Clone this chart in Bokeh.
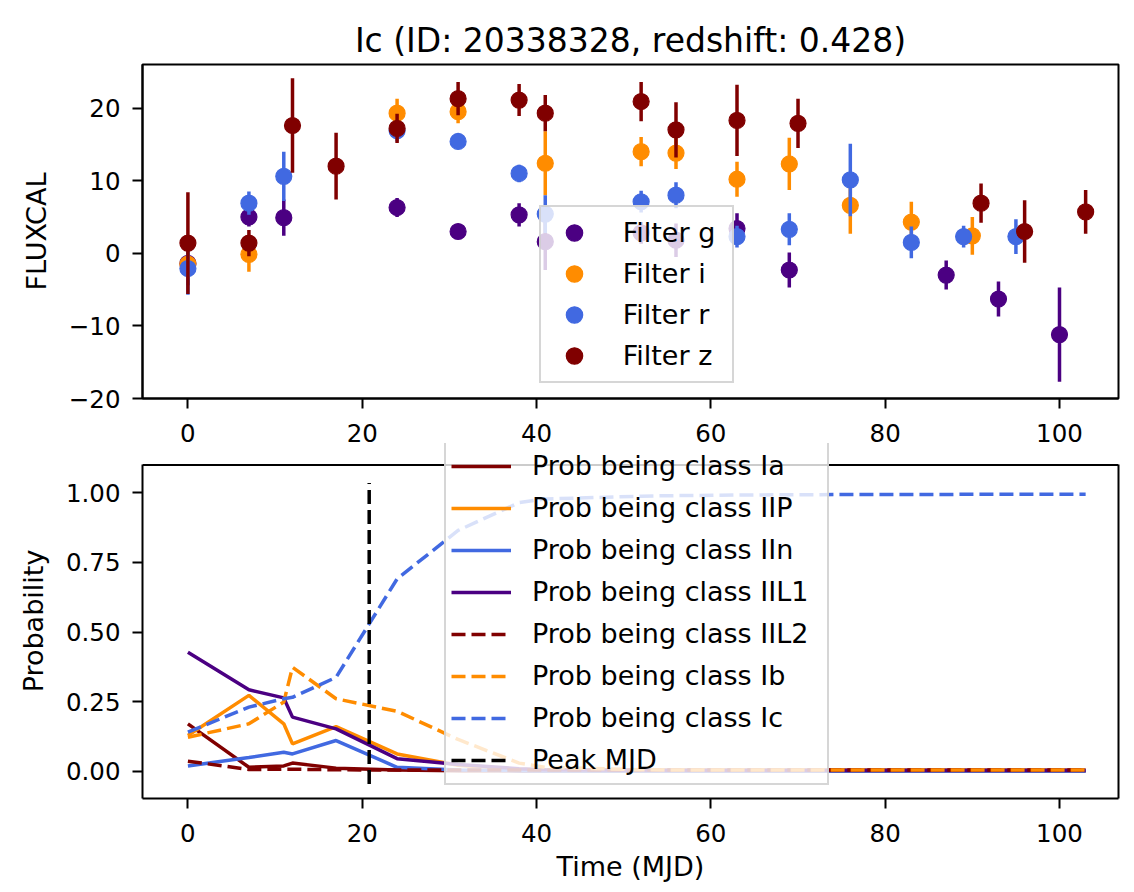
from bokeh.plotting import figure
from bokeh.layouts import column
from bokeh.models import (Range1d, FixedTicker, Legend, LegendItem, ColumnDataSource,
                          PrintfTickFormatter, LinearAxis, Span)
from bokeh.embed import file_html
from bokeh.resources import INLINE

FONT = "DejaVu Sans"

# ---------------- data: light curve ----------------
filters = ["g", "i", "r", "z"]
colors = {"g": "#4B0082", "i": "#FF8C00", "r": "#4169E1", "z": "#800000"}

g_time = [0, 7, 11, 24, 31, 38, 41, 52, 56, 63, 69, 87, 93, 100]
g_flux = [-1.4, 5.0, 4.9, 6.3, 3.0, 5.3, 1.6, 2.8, 1.8, 3.4, -2.3, -3.0, -6.3, -11.2]
g_err = [3.0, 1.3, 2.5, 1.3, 1.0, 1.6, 3.9, 1.5, 2.3, 2.1, 2.4, 2.0, 2.4, 6.5]

i_time = [0, 7, 24, 31, 41, 52, 56, 63, 69, 76, 83, 90]
i_flux = [-1.5, -0.15, 19.3, 19.5, 12.4, 14.0, 13.8, 10.2, 12.3, 6.6, 4.3, 2.4]
i_err = [2.0, 2.4, 2.0, 1.6, 4.4, 2.0, 2.2, 2.4, 3.6, 3.9, 2.8, 2.6]

r_time = [0, 7, 11, 24, 31, 38, 41, 52, 56, 63, 69, 76, 83, 89, 95]
r_flux = [-2.1, 6.9, 10.6, 16.9, 15.4, 11.0, 5.4, 7.1, 8.0, 2.3, 3.3, 10.1, 1.5, 2.3, 2.3]
r_err = [3.6, 1.6, 3.4, 1.5, 1.0, 1.2, 2.6, 1.5, 1.8, 1.5, 2.2, 5.0, 2.2, 1.5, 2.4]

z_time = [0, 7, 12, 17, 24, 31, 38, 41, 52, 56, 63, 70, 91, 96, 103]
z_flux = [1.4, 1.4, 17.6, 12.0, 17.2, 21.3, 21.1, 19.3, 20.9, 17.0, 18.3, 17.9, 6.9, 3.0, 5.7]
z_err = [7.0, 1.8, 6.5, 4.6, 2.0, 2.3, 2.2, 2.5, 2.7, 3.8, 4.9, 3.4, 2.7, 4.3, 3.0]

series = {
    "g": (g_time, g_flux, g_err),
    "i": (i_time, i_flux, i_err),
    "r": (r_time, r_flux, r_err),
    "z": (z_time, z_flux, z_err),
}

# ---------------- data: class probabilities ----------------
prob_time = [0, 7, 11, 12, 17, 24, 31, 38, 41, 52, 56, 63, 69, 70, 76, 83, 87, 89, 90, 91, 93, 95, 96, 100, 103]
prob_Ia = [0.171, 0.015, 0.020, 0.030, 0.012, 0.005, 0.003, 0.002, 0.002, 0.002, 0.002, 0.002, 0.002, 0.002,
           0.002, 0.002, 0.002, 0.002, 0.002, 0.002, 0.002, 0.002, 0.002, 0.002, 0.002]
prob_IIP = [0.129, 0.273, 0.171, 0.099, 0.161, 0.063, 0.022, 0.008, 0.006, 0.005, 0.005, 0.005, 0.005, 0.005,
            0.005, 0.005, 0.005, 0.005, 0.005, 0.005, 0.005, 0.005, 0.005, 0.005, 0.005]
prob_IIn = [0.020, 0.050, 0.069, 0.063, 0.111, 0.015, 0.005, 0.003, 0.002, 0.002, 0.002, 0.002, 0.002, 0.002,
            0.002, 0.002, 0.002, 0.002, 0.002, 0.002, 0.002, 0.002, 0.002, 0.002, 0.002]
prob_IIL1 = [0.428, 0.293, 0.264, 0.195, 0.153, 0.046, 0.025, 0.010, 0.006, 0.004, 0.004, 0.004, 0.004, 0.004,
             0.004, 0.004, 0.004, 0.004, 0.004, 0.004, 0.004, 0.004, 0.004, 0.004, 0.004]
prob_IIL2 = [0.037, 0.007, 0.008, 0.008, 0.006, 0.005, 0.005, 0.005, 0.005, 0.005, 0.005, 0.005, 0.005, 0.005,
             0.005, 0.005, 0.005, 0.005, 0.005, 0.005, 0.005, 0.005, 0.005, 0.005, 0.005]
prob_Ib = [0.123, 0.171, 0.249, 0.374, 0.261, 0.216, 0.115, 0.030, 0.015, 0.006, 0.005, 0.005, 0.005, 0.005,
           0.005, 0.005, 0.005, 0.005, 0.005, 0.005, 0.005, 0.005, 0.005, 0.005, 0.005]
prob_Ic = [0.141, 0.231, 0.261, 0.266, 0.338, 0.691, 0.865, 0.965, 0.978, 0.988, 0.990, 0.992, 0.993, 0.993,
           0.994, 0.994, 0.994, 0.995, 0.995, 0.995, 0.995, 0.995, 0.995, 0.995, 0.995]

class_names = ["Ia", "IIP", "IIn", "IIL1", "IIL2", "Ib", "Ic"]
class_probs = [prob_Ia, prob_IIP, prob_IIn, prob_IIL1, prob_IIL2, prob_Ib, prob_Ic]
class_colors = ["#800000", "#FF8C00", "#4169E1", "#4B0082", "#800000", "#FF8C00", "#4169E1"]
class_dashed = [False, False, False, False, True, True, True]

peak_mjd = 20.8
peak_span = [-0.045, 1.035]

x_ticks = [0, 20, 40, 60, 80, 100]
flux_ticks = [-20, -10, 0, 10, 20]
prob_ticks = [0.0, 0.25, 0.5, 0.75, 1.0]

title_text = "Ic (ID: 20338328, redshift: 0.428)"

X_LIM = (-5.21, 106.77)
FLUX_LIM = (-20.0, 26.0)
PROB_LIM = (-0.097, 1.1)      # visible axes box of the probability panel
PROB_VIEW_TOP = 1.177         # extra room above the box so the legend can overhang

DASH = "14 6"


def style(p):
    p.background_fill_color = "white"
    p.border_fill_color = "white"
    p.outline_line_color = "black"
    p.outline_line_width = 2
    p.grid.visible = False
    for ax in p.axis:
        ax.axis_line_width = 2
        ax.axis_line_color = "black"
        ax.major_tick_line_width = 2
        ax.major_tick_line_color = "black"
        ax.major_tick_out = 10
        ax.major_tick_in = 0
        ax.minor_tick_line_color = None
        ax.major_label_text_font = FONT
        ax.major_label_text_font_size = "24.5px"
        ax.major_label_text_color = "black"
        ax.axis_label_text_font = FONT
        ax.axis_label_text_font_size = "27px"
        ax.axis_label_text_font_style = "normal"
        ax.axis_label_text_color = "black"
    p.xaxis.major_label_standoff = 15
    p.yaxis.major_label_standoff = 12
    p.yaxis.axis_label_standoff = 14
    p.xaxis.ticker = FixedTicker(ticks=x_ticks)


def style_legend(lg):
    lg.label_text_font = FONT
    lg.label_text_font_size = "27px"
    lg.label_text_color = "black"
    lg.background_fill_color = "white"
    lg.background_fill_alpha = 0.8
    lg.border_line_color = "#cccccc"
    lg.border_line_width = 2
    lg.border_line_alpha = 0.8
    lg.margin = 0


# ---------------- top: light curve ----------------
p1 = figure(width=1134, height=455, output_backend="svg", toolbar_location=None,
            x_range=Range1d(*X_LIM), y_range=Range1d(*FLUX_LIM),
            min_border_left=142, min_border_right=16, min_border_top=64, min_border_bottom=57,
            title=title_text)
p1.title.text_font = FONT
p1.title.text_font_size = "33px"
p1.title.text_font_style = "normal"
p1.title.text_color = "black"
p1.title.align = "center"
style(p1)
p1.yaxis.axis_label = "FLUXCAL"
p1.yaxis.ticker = FixedTicker(ticks=flux_ticks)
p1.yaxis.major_label_overrides = {-20: "\u221220", -10: "\u221210", 0: "0", 10: "10", 20: "20"}

items1 = []
for f in filters:
    t, fl, er = series[f]
    src = ColumnDataSource(dict(t=t, f=fl, lo=[a - b for a, b in zip(fl, er)], hi=[a + b for a, b in zip(fl, er)]))
    p1.segment(x0="t", y0="lo", x1="t", y1="hi", source=src, line_color=colors[f], line_width=3.5)
    sc = p1.scatter(x="t", y="f", source=src, marker="circle", size=16,
                    fill_color=colors[f], line_color=colors[f], line_width=1.2)
    items1.append(LegendItem(label="Filter " + f, renderers=[sc]))

lg1 = Legend(items=items1, location=(396.7, 15))
style_legend(lg1)
lg1.padding = 5
lg1.glyph_width = 56
lg1.glyph_height = 41
lg1.label_height = 41
lg1.label_width = 104
lg1.spacing = 0
lg1.label_standoff = 21
p1.add_layout(lg1)

# ---------------- bottom: probabilities ----------------
p2 = figure(width=1134, height=447, output_backend="svg", toolbar_location=None,
            x_range=Range1d(*X_LIM), y_range=Range1d(PROB_LIM[0], PROB_VIEW_TOP),
            min_border_left=142, min_border_right=16, min_border_top=0, min_border_bottom=92)
p2.styles = {"margin-top": "-12px"}
style(p2)
p2.outline_line_color = None
p2.yaxis.axis_label = "Probability"
p2.yaxis.bounds = PROB_LIM
p2.xaxis.axis_label = "Time (MJD)"
p2.xaxis.axis_label_standoff = 6
p2.yaxis.ticker = FixedTicker(ticks=prob_ticks)
p2.yaxis.formatter = PrintfTickFormatter(format="%.2f")

# right and top edges of the axes box
right_ax = LinearAxis(bounds=PROB_LIM, ticker=FixedTicker(ticks=[]), axis_line_width=2,
                      axis_line_color="black", major_tick_line_color=None, minor_tick_line_color=None)
p2.add_layout(right_ax, "right")
p2.add_layout(Span(location=PROB_LIM[1], dimension="width", line_color="black", line_width=2))

items2 = []
for name, pr, col, dashed in zip(class_names, class_probs, class_colors, class_dashed):
    r = p2.line(prob_time, pr, line_color=col, line_width=3.5,
                line_dash=DASH if dashed else "solid")
    items2.append(LegendItem(label="Prob being class " + name, renderers=[r]))

rp = p2.line([peak_mjd, peak_mjd], peak_span, line_color="black", line_width=3.5, line_dash=DASH)
items2.append(LegendItem(label="Peak MJD", renderers=[rp]))

lg2 = Legend(items=items2, location=(302, 13.3))
style_legend(lg2)
lg2.padding = 5
lg2.glyph_width = 60
lg2.glyph_height = 36
lg2.label_height = 36
lg2.label_width = 290
lg2.spacing = 6
lg2.label_standoff = 21
p2.add_layout(lg2)

layout = column(p1, p2, spacing=0)
open("out.html", "w").write(file_html(layout, INLINE))
